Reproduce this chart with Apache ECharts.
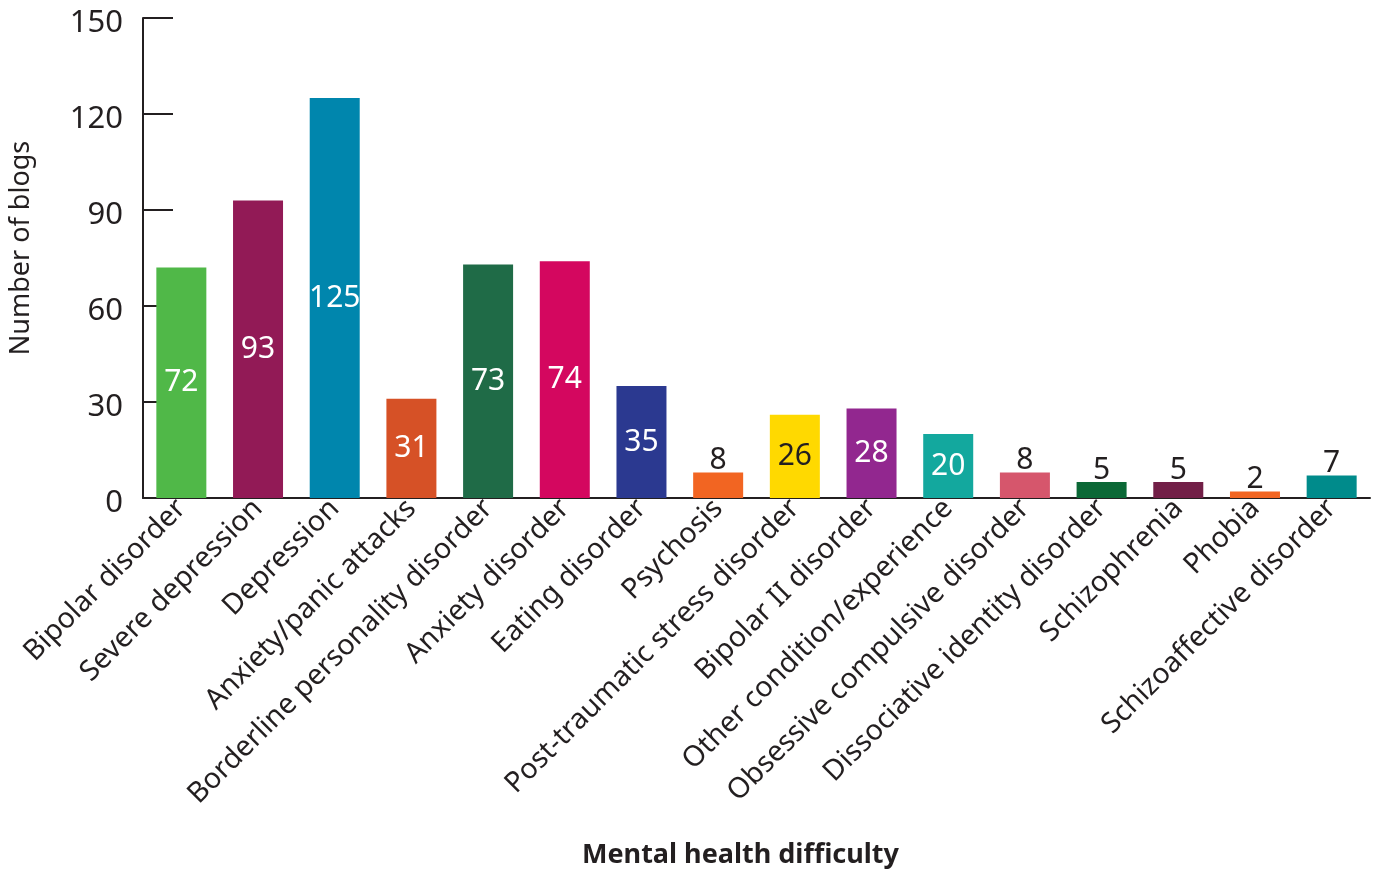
<!DOCTYPE html>
<html><head><meta charset="utf-8">
<script src="https://cdn.jsdelivr.net/npm/echarts@6/dist/echarts.min.js"></script>
<style>html,body{margin:0;padding:0;background:#fff}#c{width:1381px;height:874px}</style>
</head><body><div id="c"></div>
<script>
const categories = ["Bipolar disorder","Severe depression","Depression","Anxiety/panic attacks","Borderline personality disorder","Anxiety disorder","Eating disorder","Psychosis","Post-traumatic stress disorder","Bipolar II disorder","Other condition/experience","Obsessive compulsive disorder","Dissociative identity disorder","Schizophrenia","Phobia","Schizoaffective disorder"];
const values = [72,93,125,31,73,74,35,8,26,28,20,8,5,5,2,7];
const colors = ["#50b848","#921a56","#0086ad","#d65126","#1f6b47","#d4075f","#2b3990","#f26522","#ffd900","#92278f","#13a89e","#d6566c","#0b6836","#721f47","#f26522","#008b8b"];
const yTicks = [0,30,60,90,120,150];
const axisColor = "#231f20";
const font = "Noto Sans";

const data = values.map((v,i)=>{
  const inside = v >= 15;
  const dark = colors[i] === "#ffd900";
  return {
    value: v,
    itemStyle: {color: colors[i]},
    label: {position: inside ? 'inside' : 'top', color: inside && !dark ? '#fff' : '#231f20', distance: -3}
  };
});

const chart = echarts.init(document.getElementById('c'));
chart.setOption({
  animation: false,
  grid: {left: 143, right: 11, top: 18, bottom: 372, containLabel: false},
  xAxis: {
    type: 'category', data: categories,
    axisLine: {lineStyle: {color: axisColor, width: 2}},
    axisTick: {inside: true, length: 10, lineStyle: {color: axisColor, width: 2}},
    axisLabel: {rotate: 45, interval: 0, fontFamily: font, fontSize: 28.5, color: axisColor, margin: 6},
    name: 'Mental health difficulty', nameLocation: 'middle', nameGap: 344,
    nameTextStyle: {fontFamily: font, fontSize: 27, fontWeight: 'bold', color: axisColor, padding: [0, 32, 0, 0]}
  },
  yAxis: {
    type: 'value', min: yTicks[0], max: yTicks[yTicks.length-1], interval: 30,
    axisLine: {show: true, lineStyle: {color: axisColor, width: 2}},
    axisTick: {show: true, inside: true, length: 30, lineStyle: {color: axisColor, width: 2}},
    splitLine: {show: false},
    axisLabel: {
      color: axisColor, margin: 20,
      formatter: '{a|{value}}',
      rich: {a: {fontFamily: font, fontSize: 31, color: axisColor, padding: [10, 0, 0, 0]}}
    },
    name: 'Number of blogs', nameLocation: 'middle', nameGap: 108, nameRotate: 90,
    nameTextStyle: {fontFamily: font, fontSize: 27, color: axisColor, padding: [0, 0, 0, 20]}
  },
  series: [{
    type: 'bar', data: data, barWidth: 50,
    label: {show: true, fontFamily: font, fontSize: 30}
  }]
});
</script></body></html>
